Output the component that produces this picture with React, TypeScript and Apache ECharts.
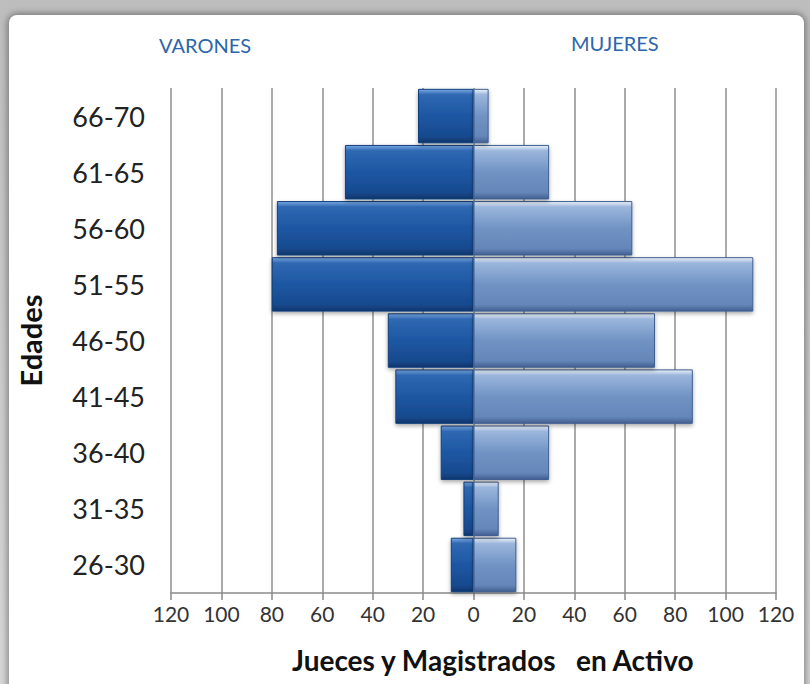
import React, { useEffect, useRef } from "react";
import * as echarts from "echarts";

const ageGroups = ["26-30", "31-35", "36-40", "41-45", "46-50", "51-55", "56-60", "61-65", "66-70"];
const varones = [9, 4, 13, 31, 34, 80, 78, 51, 22];
const mujeres = [17, 10, 30, 87, 72, 111, 63, 30, 6];
const tickValues = [-120, -100, -80, -60, -40, -20, 0, 20, 40, 60, 80, 100, 120];

const FONT = "Lato, 'Open Sans', sans-serif";

export default function App() {
  const ref = useRef<HTMLDivElement>(null);
  useEffect(() => {
    if (!ref.current) return;
    const chart = echarts.init(ref.current, null, { renderer: "svg" });
    const darkGrad = new echarts.graphic.LinearGradient(0, 0, 0, 1, [
      { offset: 0, color: "#7aa8e3" },
      { offset: 0.1, color: "#2f68b2" },
      { offset: 0.5, color: "#1d57a3" },
      { offset: 0.88, color: "#174a8e" },
      { offset: 1, color: "#0f356a" },
    ]);
    const lightGrad = new echarts.graphic.LinearGradient(0, 0, 0, 1, [
      { offset: 0, color: "#eef3fa" },
      { offset: 0.1, color: "#9bb6dc" },
      { offset: 0.5, color: "#7093c4" },
      { offset: 0.88, color: "#6586b8" },
      { offset: 1, color: "#435f92" },
    ]);
    chart.setOption({
      animation: false,
      backgroundColor: "transparent",
      graphic: [
        {
          type: "text",
          left: 159,
          top: 35,
          style: { text: "VARONES", font: `20px ${FONT}`, fill: "#2c66aa" },
        },
        {
          type: "text",
          left: 571,
          top: 33,
          style: { text: "MUJERES", font: `20px ${FONT}`, fill: "#2c66aa" },
        },
        {
          type: "text",
          left: 292,
          top: 646,
          style: {
            text: "Jueces y Magistrados   en Activo",
            font: `bold 28px ${FONT}`,
            fill: "#111",
          },
        },
      ],
      grid: { left: 171, right: 34, top: 88, bottom: 91, containLabel: false },
      xAxis: {
        type: "value",
        min: -120,
        max: 120,
        interval: 20,
        axisLine: { show: true, lineStyle: { color: "#8a8a8a", width: 1.5 } },
        axisTick: { show: true, length: 7, lineStyle: { color: "#8a8a8a", width: 1.5 } },
        axisLabel: {
          fontFamily: FONT,
          fontSize: 21,
          color: "#333",
          margin: 10,
          formatter: (v: number) => String(Math.abs(v)),
          customValues: tickValues,
        },
        splitLine: { show: true, lineStyle: { color: "#8f8f8f", width: 1.5 } },
      },
      yAxis: {
        type: "category",
        data: ageGroups,
        name: "Edades",
        nameLocation: "middle",
        nameGap: 126,
        nameRotate: 90,
        nameTextStyle: { fontFamily: FONT, fontWeight: "bold", fontSize: 29, color: "#111" },
        axisLine: { show: false },
        axisTick: { show: false },
        axisLabel: { fontFamily: FONT, fontSize: 27, color: "#222", margin: 26 },
      },
      series: [
        {
          name: "VARONES",
          type: "bar",
          data: varones.map((v) => -v),
          barWidth: "97%",
          barGap: "-100%",
          itemStyle: {
            color: darkGrad,
            borderColor: "#123f7c",
            borderWidth: 1,
            shadowColor: "rgba(0,0,0,0.35)",
            shadowBlur: 4,
            shadowOffsetY: 2,
          },
        },
        {
          name: "MUJERES",
          type: "bar",
          data: mujeres,
          barWidth: "97%",
          barGap: "-100%",
          itemStyle: {
            color: lightGrad,
            borderColor: "#3f5f90",
            borderWidth: 1,
            shadowColor: "rgba(0,0,0,0.35)",
            shadowBlur: 4,
            shadowOffsetY: 2,
          },
        },
      ],
    });
    return () => chart.dispose();
  }, []);

  return (
    <div
      style={{
        position: "absolute",
        left: 0,
        top: 0,
        width: 810,
        height: 684,
        background: "linear-gradient(#bdbdbd, #d6d6d6)",
        overflow: "hidden",
      }}
    >
      <div
        style={{
          position: "absolute",
          left: 9,
          top: 15,
          width: 795,
          height: 700,
          background: "#fff",
          borderRadius: 8,
          boxShadow: "0 0 6px 2px rgba(0,0,0,0.35)",
        }}
      />
      <div ref={ref} style={{ position: "absolute", left: 0, top: 0, width: 810, height: 684 }} />
    </div>
  );
}
